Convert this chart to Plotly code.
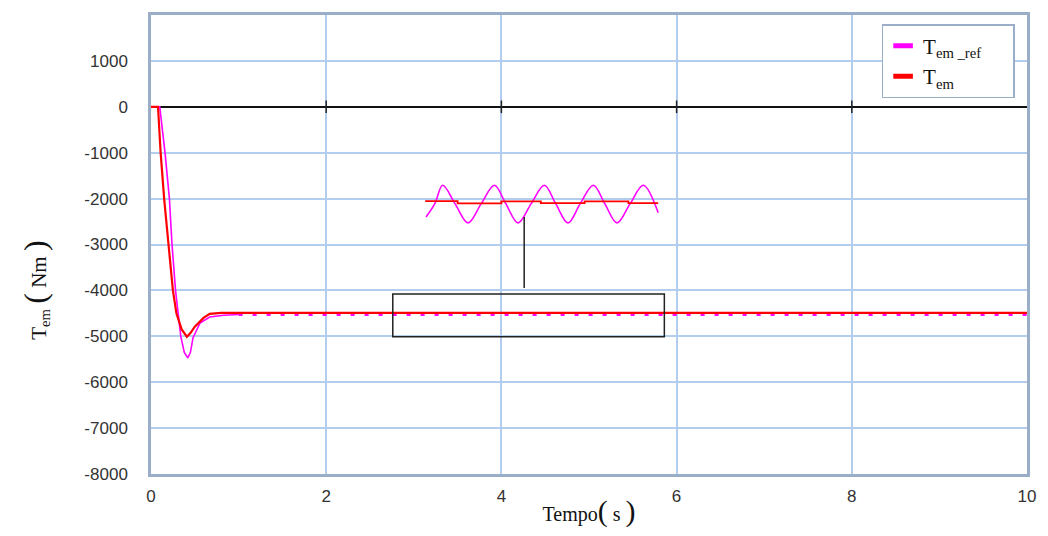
import plotly.graph_objects as go

# ---- main curves ----
t_ref = [0.0, 0.10, 0.16, 0.21, 0.24, 0.28, 0.31, 0.34, 0.38, 0.42, 0.45, 0.48, 0.56, 0.67, 0.83, 1.0]
tem_ref = [0, 0, -1000, -2000, -3000, -4000, -4500, -5000, -5350, -5470, -5350, -5030, -4710, -4580, -4540, -4525]
t_ref_ss = [1.0, 10.0]
tem_ref_ss = [-4525, -4525]

t_em = [0.0, 0.08, 0.11, 0.15, 0.20, 0.25, 0.29, 0.35, 0.41, 0.45, 0.50, 0.60, 0.67, 0.8, 10.0]
tem = [0, 0, -1000, -2000, -3000, -4000, -4500, -4850, -5010, -4930, -4790, -4600, -4510, -4490, -4490]

# ---- zoomed inset (drawn at data positions) ----
inset_t = [3.14, 3.24, 3.33, 3.47, 3.62, 3.77, 3.92, 4.05, 4.19, 4.34, 4.49, 4.62, 4.76, 4.90, 5.05, 5.18, 5.32, 5.47, 5.62, 5.79]
inset_ref = [-2400, -2110, -1710, -2110, -2530, -2110, -1710, -2110, -2530, -2110, -1710, -2110, -2530, -2110, -1710, -2110, -2530, -2110, -1710, -2310]
inset_t_em = [3.13, 3.45, 3.50, 3.95, 4.00, 4.40, 4.45, 4.90, 4.95, 5.40, 5.45, 5.79]
inset_tem = [-2055, -2055, -2105, -2105, -2060, -2060, -2100, -2100, -2060, -2060, -2100, -2100]
box_t = [2.76, 5.86]
box_v = [-5010, -4080]
connector_t = [4.26, 4.26]
connector_v = [-3950, -2400]

zero_ticks_t = [2, 4, 6, 8]
zero_ticks_v = [0, 0, 0, 0]

x_ticks = [0, 2, 4, 6, 8, 10]
y_ticks = [-8000, -7000, -6000, -5000, -4000, -3000, -2000, -1000, 0, 1000]

MAG = "#ff00ff"
RED = "#ff0000"
GRID = "#b3cdee"
FRAME = "#9aaec8"
SERIF = "Liberation Serif, Times New Roman, serif"

fig = go.Figure()

fig.add_trace(go.Scatter(x=t_ref, y=tem_ref, mode="lines", line=dict(color=MAG, width=1.6),
                         showlegend=False, hoverinfo="skip"))
fig.add_trace(go.Scatter(x=t_ref_ss, y=tem_ref_ss, mode="lines", line=dict(color=MAG, width=3, dash="4px,10px"),
                         showlegend=False, hoverinfo="skip"))
fig.add_trace(go.Scatter(x=t_em, y=tem, mode="lines", line=dict(color=RED, width=2.2),
                         showlegend=False, hoverinfo="skip"))

fig.add_trace(go.Scatter(x=inset_t, y=inset_ref, mode="lines", line=dict(color=MAG, width=1.6, shape="spline"),
                         showlegend=False, hoverinfo="skip"))
fig.add_trace(go.Scatter(x=inset_t_em, y=inset_tem, mode="lines", line=dict(color=RED, width=1.8, shape="hv"),
                         showlegend=False, hoverinfo="skip"))

fig.add_trace(go.Scatter(x=zero_ticks_t, y=zero_ticks_v, mode="markers",
                         marker=dict(symbol="line-ns", size=9, line=dict(color="#222222", width=1.5)),
                         showlegend=False, hoverinfo="skip"))

fig.add_trace(go.Scatter(x=[None], y=[None], mode="markers", name="T<sub>em _ref</sub>&nbsp;&nbsp;&nbsp;&nbsp;&nbsp;",
                         marker=dict(symbol="line-ew", size=14, line=dict(color=MAG, width=7))))
fig.add_trace(go.Scatter(x=[None], y=[None], mode="markers", name="T<sub>em</sub>",
                         marker=dict(symbol="line-ew", size=14, line=dict(color=RED, width=7))))

fig.add_shape(type="rect", xref="x", yref="y", x0=box_t[0], x1=box_t[1], y0=box_v[0], y1=box_v[1],
              line=dict(color="#222222", width=1.5))
fig.add_shape(type="line", xref="x", yref="y", x0=connector_t[0], x1=connector_t[1],
              y0=connector_v[0], y1=connector_v[1], line=dict(color="#222222", width=1.5))

fig.update_layout(
    width=1040, height=528,
    margin=dict(l=143, r=21, t=4, b=62),
    paper_bgcolor="white", plot_bgcolor="white",
    font=dict(family="Liberation Sans, Arial", size=17, color="#333333"),
    showlegend=True,
    legend=dict(x=0.834, y=0.98, xanchor="left", yanchor="top",
                bgcolor="white", bordercolor=FRAME, borderwidth=1.5,
                font=dict(family=SERIF, size=21, color="#111111"),
                itemwidth=30, tracegroupgap=0, traceorder="normal"),
    xaxis=dict(range=[0, 10], tickvals=x_ticks, ticktext=[str(v) for v in x_ticks],
               showgrid=True, gridcolor=GRID, gridwidth=2,
               zeroline=False, showline=True, linecolor=FRAME, linewidth=2.5, mirror=True,
               ticks="outside", ticklen=5, tickcolor="rgba(0,0,0,0)",
               tickfont=dict(family="Liberation Sans, Arial", size=17, color="#333333"),
               title=dict(text="Tempo<span style='font-size:30px'>(</span> s <span style='font-size:30px'>)</span>",
                          font=dict(family=SERIF, size=20, color="#111111"), standoff=2)),
    yaxis=dict(range=[-8000, 2000], tickvals=y_ticks, ticktext=[str(v) for v in y_ticks],
               showgrid=True, gridcolor=GRID, gridwidth=2,
               zeroline=True, zerolinecolor="#111111", zerolinewidth=2,
               showline=True, linecolor=FRAME, linewidth=2.5, mirror=True,
               ticks="outside", ticklen=17, tickcolor="rgba(0,0,0,0)",
               tickfont=dict(family="Liberation Sans, Arial", size=17, color="#333333")),
)

fig.add_annotation(text="T<sub>em</sub> <span style='font-size:32px'>(</span> Nm <span style='font-size:32px'>)</span>",
                   xref="paper", yref="paper", x=-0.132, y=0.40, xanchor="center", yanchor="middle",
                   textangle=-90, showarrow=False,
                   font=dict(family=SERIF, size=21, color="#111111"))

fig.write_html("out.html")
